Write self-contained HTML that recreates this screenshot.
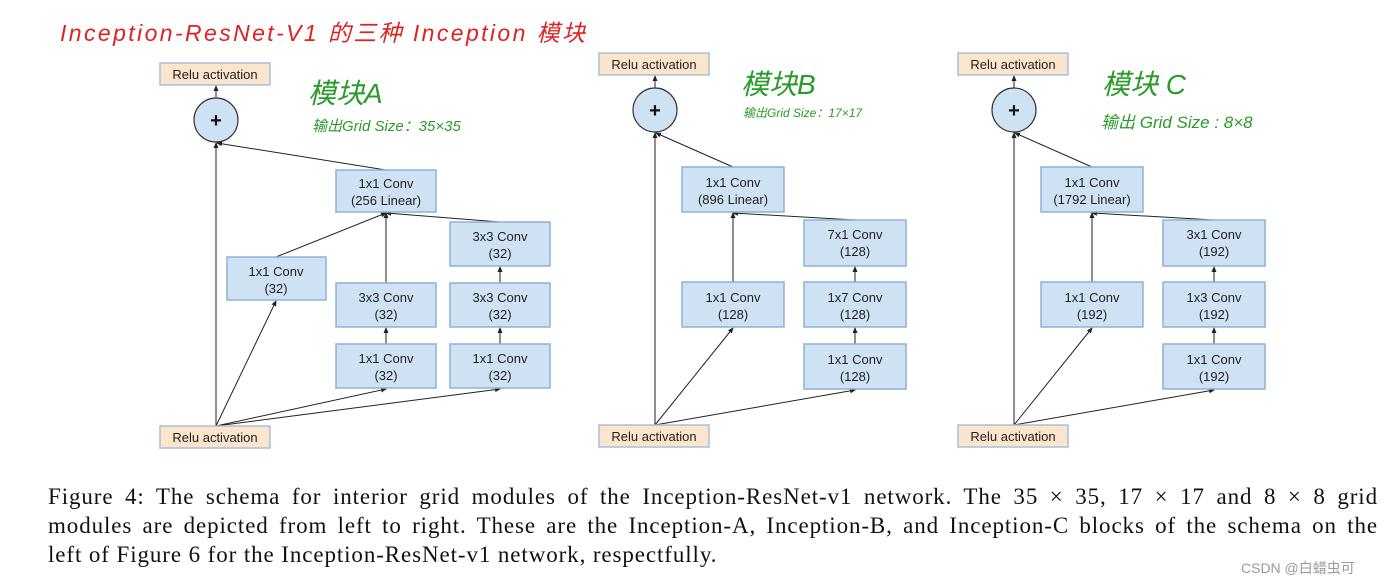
<!DOCTYPE html>
<html><head><meta charset="utf-8"><style>
body{margin:0;width:1394px;height:586px;background:#fff;overflow:hidden;position:relative;font-family:"Liberation Sans",sans-serif}
svg{position:absolute;left:0;top:0}
.cap{position:absolute;left:48px;width:1330px;font-family:"Liberation Serif",serif;font-size:23px;letter-spacing:0.9px;color:#111;white-space:nowrap}
.j{text-align:justify;text-align-last:justify}
.hw{position:absolute;font-family:"Liberation Sans","Noto Sans CJK SC",sans-serif;font-style:italic;white-space:nowrap}
</style></head><body>
<svg width="1394" height="586" viewBox="0 0 1394 586" font-family="Liberation Sans, sans-serif">
<defs><marker id="a" markerWidth="6" markerHeight="6" refX="5" refY="3" orient="auto" markerUnits="userSpaceOnUse"><path d="M0,0.5L6,3L0,5.5z" fill="#222"/></marker>
<g id="relu"><rect x="0" y="0" width="110" height="22" fill="#fce5cd" stroke="#a9bfdc" stroke-width="1.5"/><text x="55" y="16" font-size="13" text-anchor="middle" fill="#222">Relu activation</text></g>
</defs>
<g stroke="#222" stroke-width="1" fill="none" marker-end="url(#a)">
<line x1="216" y1="426" x2="216" y2="143"/><line x1="216" y1="426" x2="276" y2="301"/><line x1="216" y1="426" x2="386" y2="389"/><line x1="216" y1="426" x2="500" y2="389"/>
<line x1="386" y1="344" x2="386" y2="328"/><line x1="500" y1="344" x2="500" y2="328"/><line x1="500" y1="283" x2="500" y2="267"/>
<line x1="386" y1="283" x2="386" y2="213"/><line x1="276" y1="257" x2="386" y2="213"/><line x1="500" y1="222" x2="386" y2="213"/>
<line x1="386" y1="170" x2="217" y2="143"/><line x1="216" y1="98" x2="216" y2="86"/>
<line x1="655" y1="425" x2="655" y2="133"/><line x1="655" y1="425" x2="733" y2="328"/><line x1="655" y1="425" x2="855" y2="390"/>
<line x1="855" y1="344" x2="855" y2="328"/><line x1="855" y1="282" x2="855" y2="267"/><line x1="733" y1="282" x2="733" y2="213"/><line x1="855" y1="220" x2="733" y2="213"/>
<line x1="733" y1="167" x2="656" y2="133"/><line x1="655" y1="88" x2="655" y2="76"/>
<line x1="1014" y1="425" x2="1014" y2="133"/><line x1="1014" y1="425" x2="1092" y2="328"/><line x1="1014" y1="425" x2="1214" y2="390"/>
<line x1="1214" y1="344" x2="1214" y2="328"/><line x1="1214" y1="282" x2="1214" y2="267"/><line x1="1092" y1="282" x2="1092" y2="213"/><line x1="1214" y1="220" x2="1092" y2="213"/>
<line x1="1092" y1="167" x2="1015" y2="133"/><line x1="1014" y1="88" x2="1014" y2="76"/>
</g>
<g fill="#cfe2f3" stroke="#8eb0da" stroke-width="1.5">
<rect x="336" y="170" width="100" height="42"/><rect x="227" y="257" width="99" height="43"/><rect x="336" y="283" width="100" height="44"/><rect x="336" y="344" width="100" height="44"/>
<rect x="450" y="222" width="100" height="44"/><rect x="450" y="283" width="100" height="44"/><rect x="450" y="344" width="100" height="44"/>
<rect x="682" y="167" width="102" height="45"/><rect x="682" y="282" width="102" height="45"/><rect x="804" y="220" width="102" height="46"/><rect x="804" y="282" width="102" height="45"/><rect x="804" y="344" width="102" height="45"/>
<rect x="1041" y="167" width="102" height="45"/><rect x="1041" y="282" width="102" height="45"/><rect x="1163" y="220" width="102" height="46"/><rect x="1163" y="282" width="102" height="45"/><rect x="1163" y="344" width="102" height="45"/>
</g>
<g fill="#cfe2f3" stroke="#333" stroke-width="1.2"><circle cx="216" cy="120" r="22"/><circle cx="655" cy="110" r="22"/><circle cx="1014" cy="110" r="22"/></g>
<g font-size="20" font-weight="bold" text-anchor="middle" fill="#111"><text x="216" y="127">+</text><text x="655" y="117">+</text><text x="1014" y="117">+</text></g>
<use href="#relu" x="160" y="63"/><use href="#relu" x="160" y="426"/><use href="#relu" x="599" y="53"/><use href="#relu" x="599" y="425"/><use href="#relu" x="958" y="53"/><use href="#relu" x="958" y="425"/>
<g font-size="13" text-anchor="middle" fill="#222">
<text x="386" y="188">1x1 Conv</text><text x="386" y="205">(256 Linear)</text>
<text x="276" y="276">1x1 Conv</text><text x="276" y="293">(32)</text>
<text x="386" y="302">3x3 Conv</text><text x="386" y="319">(32)</text>
<text x="386" y="363">1x1 Conv</text><text x="386" y="380">(32)</text>
<text x="500" y="241">3x3 Conv</text><text x="500" y="258">(32)</text>
<text x="500" y="302">3x3 Conv</text><text x="500" y="319">(32)</text>
<text x="500" y="363">1x1 Conv</text><text x="500" y="380">(32)</text>
<text x="733" y="187">1x1 Conv</text><text x="733" y="204">(896 Linear)</text>
<text x="733" y="302">1x1 Conv</text><text x="733" y="319">(128)</text>
<text x="855" y="239">7x1 Conv</text><text x="855" y="256">(128)</text>
<text x="855" y="302">1x7 Conv</text><text x="855" y="319">(128)</text>
<text x="855" y="364">1x1 Conv</text><text x="855" y="381">(128)</text>
<text x="1092" y="187">1x1 Conv</text><text x="1092" y="204">(1792 Linear)</text>
<text x="1092" y="302">1x1 Conv</text><text x="1092" y="319">(192)</text>
<text x="1214" y="239">3x1 Conv</text><text x="1214" y="256">(192)</text>
<text x="1214" y="302">1x3 Conv</text><text x="1214" y="319">(192)</text>
<text x="1214" y="364">1x1 Conv</text><text x="1214" y="381">(192)</text>
</g>
</svg>
<div class="hw" style="left:60px;top:14px;color:#d22;font-size:23px;letter-spacing:2.4px">Inception-ResNet-V1 的三种 Inception 模块</div>
<div class="hw" style="left:308px;top:72px;color:#2a9a2a;font-size:28px">模块A</div>
<div class="hw" style="left:312px;top:115px;color:#2a9a2a;font-size:15px">输出Grid Size：35×35</div>
<div class="hw" style="left:741px;top:63px;color:#2a9a2a;font-size:28px">模块B</div>
<div class="hw" style="left:743px;top:104px;color:#2a9a2a;font-size:12px">输出Grid Size：17×17</div>
<div class="hw" style="left:1102px;top:63px;color:#2a9a2a;font-size:28px">模块 C</div>
<div class="hw" style="left:1101px;top:108px;color:#2a9a2a;font-size:17px">输出 Grid Size : 8×8</div>
<div class="cap j" style="top:484px">Figure 4: The schema for interior grid modules of the Inception-ResNet-v1 network. The 35 × 35, 17 × 17 and 8 × 8 grid</div>
<div class="cap j" style="top:513px">modules are depicted from left to right. These are the Inception-A, Inception-B, and Inception-C blocks of the schema on the</div>
<div class="cap" style="top:542px">left of Figure 6 for the Inception-ResNet-v1 network, respectfully.</div>
<div style="position:absolute;left:1241px;top:558px;font-size:14px;color:#999;font-family:'Liberation Sans','Noto Sans CJK SC',sans-serif">CSDN @白蜡虫可</div>
</body></html>
